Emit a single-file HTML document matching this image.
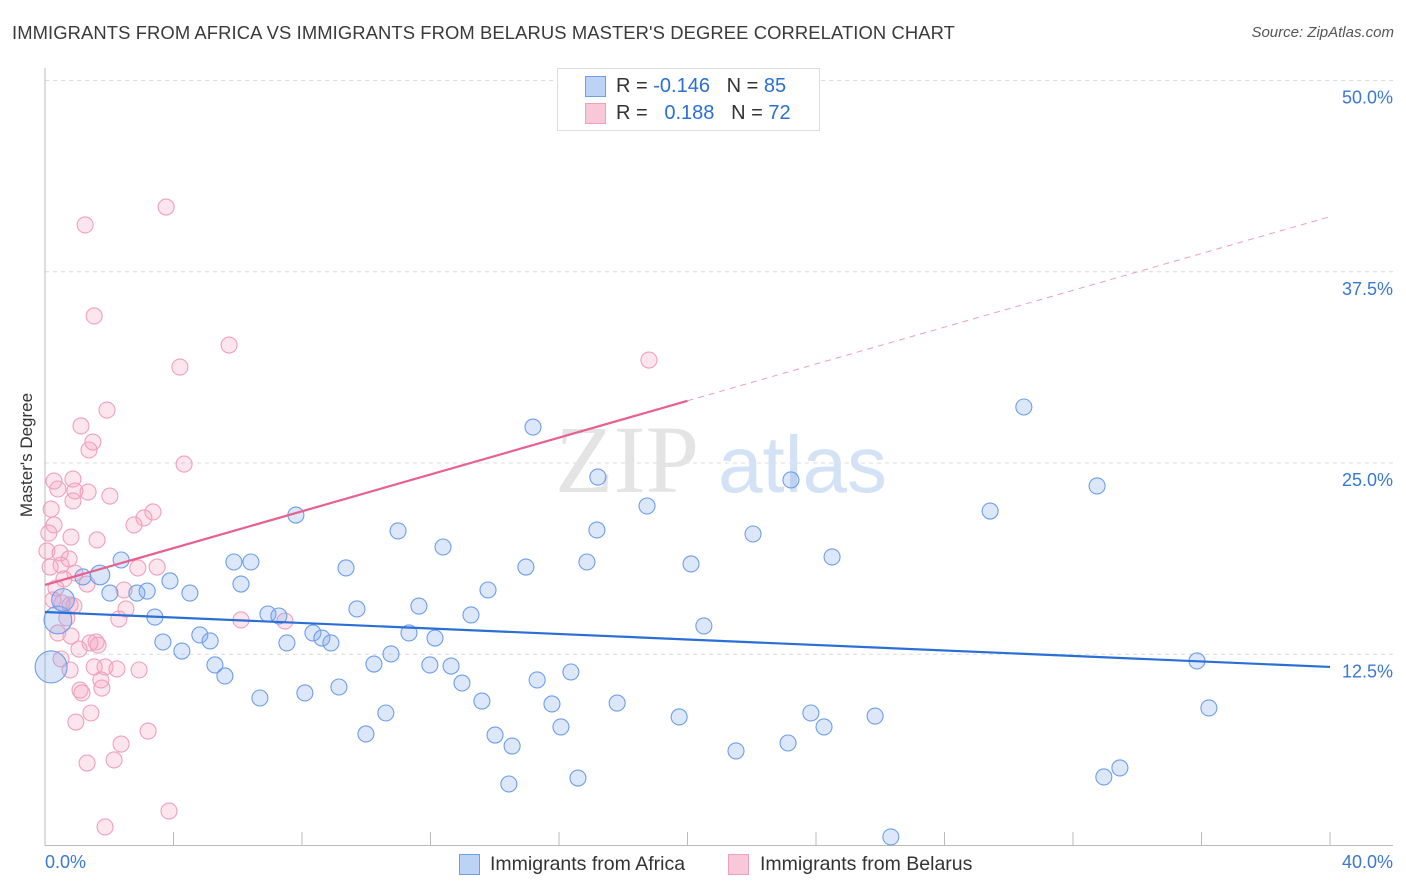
<!DOCTYPE html>
<html><head><meta charset="utf-8"><style>
html,body{margin:0;padding:0;background:#fff;}
body{width:1406px;height:892px;overflow:hidden;font-family:"Liberation Sans",sans-serif;position:relative;}
.t{position:absolute;white-space:nowrap;}
</style></head><body>
<div class="t" style="left:12px;top:22px;font-size:18.4px;letter-spacing:0.1px;color:#3a3a3a;">IMMIGRANTS FROM AFRICA VS IMMIGRANTS FROM BELARUS MASTER'S DEGREE CORRELATION CHART</div>
<div class="t" style="right:12px;top:24px;font-size:15px;color:#555;font-style:italic;">Source: ZipAtlas.com</div>
<svg id="chart" width="1406" height="892" style="position:absolute;left:0;top:0;" xmlns="http://www.w3.org/2000/svg"></svg>
<script>
const blueX=[15.19,30.47,17.21,18.74,23.22,32.75,29.42,7.81,10.99,17.18,22.04,12.39,24.50,5.88,6.41,2.37,9.37,14.97,16.87,20.11,1.18,3.89,6.10,13.79,4.51,2.02,2.86,3.18,11.64,9.71,6.94,7.28,3.42,13.26,20.51,8.34,8.62,8.90,11.33,12.14,4.82,5.14,7.53,3.67,4.26,10.77,10.24,11.98,12.64,5.29,5.60,35.86,16.37,12.98,15.32,9.15,8.09,6.69,13.60,15.78,17.81,36.23,10.61,23.84,25.84,19.74,24.25,16.06,9.99,14.01,14.54,23.13,21.51,33.46,32.96,16.59,14.44,26.33];
const blueY=[27.35,28.66,24.08,22.19,23.89,23.50,21.86,21.60,20.56,20.62,20.36,19.51,18.86,18.53,18.53,18.66,18.14,18.20,18.53,18.40,17.55,17.29,17.09,16.70,16.50,16.50,16.50,16.63,15.65,15.46,15.13,15.00,14.93,15.07,14.35,13.89,13.56,13.24,13.89,13.56,13.76,13.37,13.24,13.30,12.71,12.52,11.86,11.80,11.73,11.80,11.08,12.06,11.34,10.62,10.82,10.36,9.97,9.64,9.44,9.25,9.31,8.99,8.66,8.66,8.46,8.40,7.75,7.75,7.29,7.22,6.50,6.70,6.18,5.07,4.48,4.41,4.02,0.56];
const bigBlueX=[0.19,0.40,0.56,1.71];
const bigBlueY=[11.67,14.74,16.05,17.68];
const bigBlueW=[4,3,2,1.5];
const pinkX=[3.77,1.25,1.53,5.73,4.20,18.80,1.93,1.12,1.49,1.37,4.33,0.28,0.87,0.40,2.02,0.93,1.34,0.87,3.36,3.08,0.19,2.77,0.28,0.12,1.62,0.81,0.06,0.47,0.75,0.50,0.16,3.49,2.89,0.59,0.93,1.31,2.46,0.25,0.53,0.78,0.34,2.52,0.90,0.68,2.30,6.10,7.47,0.40,1.59,1.40,0.81,1.65,1.06,1.53,1.87,2.24,2.93,1.74,1.09,1.15,1.77,1.43,0.96,3.21,2.37,1.31,2.15,3.86,1.87,0.78,0.50];
const pinkY=[41.73,40.56,34.61,32.71,31.27,31.73,28.46,27.42,26.37,25.85,24.93,23.82,23.95,23.30,22.84,23.17,23.10,22.52,21.80,21.41,21.99,20.95,20.95,20.42,19.97,20.16,19.25,19.12,18.73,18.33,18.20,18.20,18.14,17.42,17.81,17.09,16.70,16.05,15.85,15.72,16.83,15.46,15.65,14.87,14.80,14.74,14.67,13.89,13.30,13.24,13.69,13.10,12.84,11.67,11.67,11.54,11.47,10.82,10.16,9.97,10.29,8.66,8.07,7.48,6.63,5.39,5.59,2.25,1.21,11.47,12.19];
const blueTrend=[15.26,11.67]; // value at x=0, x=40
const pinkTrend=[17.03,41.1];
const pinkSolidEnd=20;
const yTicks=[12.5,25.0,37.5,50.0];
const yTickLabels=["12.5%","25.0%","37.5%","50.0%"];
const xTicks=[0,4,8,12,16,20,24,28,32,36,40];

const NS="http://www.w3.org/2000/svg";
const svg=document.getElementById('chart');
const X=v=>45+v*32.125;
const Y=v=>845.5-v*15.3;
function mk(tag,attrs,parent){const e=document.createElementNS(NS,tag);for(const k in attrs)e.setAttribute(k,attrs[k]);(parent||svg).appendChild(e);return e;}

yTicks.forEach((v,i)=>{
  const g=mk('line',{x1:45,x2:1393,y1:Y(v),y2:Y(v),stroke:'#dcdcdc','stroke-dasharray':'4,4','stroke-width':1});
  
  
  const t=mk('text',{x:1393,y:Y(v)+23,'text-anchor':'end','font-size':18,fill:'#3a78d4','font-family':'Liberation Sans, sans-serif'});
  t.textContent=yTickLabels[i];
  
  
});
const ax=mk('line',{x1:45,x2:1393,y1:845.5,y2:845.5,stroke:'#bbb','stroke-width':1});


const ay=mk('line',{x1:45,x2:45,y1:68,y2:845.5,stroke:'#bbb','stroke-width':1});


xTicks.forEach(v=>{
  const l=mk('line',{x1:X(v),x2:X(v),y1:832,y2:845.5,stroke:'#bbb','stroke-width':1});
  
  
});
const wm=mk('text',{x:555,y:492,'font-size':96,fill:'#e4e4e4','font-family':'Liberation Serif, serif'});
wm.textContent='ZIP';


const wm2=mk('text',{x:718,y:492,'font-size':80,fill:'#d4e2f6','font-family':'Liberation Sans, sans-serif'});
wm2.textContent='atlas';



pinkX.forEach((v,i)=>{
  const c=mk('circle',{cx:X(v),cy:Y(pinkY[i]),r:8,fill:'rgba(244,160,190,0.28)',stroke:'#f0a0bc','stroke-width':1.1});
  
  
});
blueX.forEach((v,i)=>{
  const c=mk('circle',{cx:X(v),cy:Y(blueY[i]),r:8,fill:'rgba(130,170,235,0.28)',stroke:'#6d9eeb','stroke-width':1.1});
  
  
});
bigBlueX.forEach((v,i)=>{
  const c=mk('circle',{cx:X(v),cy:Y(bigBlueY[i]),r:8*Math.sqrt(bigBlueW[i]),fill:'rgba(130,170,235,0.3)',stroke:'#6d9eeb','stroke-width':1.1});
  
  
});
const bl=mk('line',{x1:X(0),y1:Y(blueTrend[0]),x2:X(40),y2:Y(blueTrend[1]),stroke:'#2a6fd6','stroke-width':2.2});


const pm=pinkTrend[0]+(pinkTrend[1]-pinkTrend[0])*pinkSolidEnd/40;
const pl=mk('line',{x1:X(0),y1:Y(pinkTrend[0]),x2:X(pinkSolidEnd),y2:Y(pm),stroke:'#e8608e','stroke-width':2.2});


const pd=mk('line',{x1:X(pinkSolidEnd),y1:Y(pm),x2:X(40),y2:Y(pinkTrend[1]),stroke:'#eea0b8','stroke-width':1,'stroke-dasharray':'6,5'});


</script>
<div class="t" style="left:27px;top:455px;font-size:17px;color:#333;transform:translate(-50%,-50%) rotate(-90deg);">Master's Degree</div>
<div class="t" style="left:45px;top:852px;font-size:18px;color:#3a78d4;">0.0%</div>
<div class="t" style="right:13px;top:852px;font-size:18px;color:#3a78d4;">40.0%</div>
<div style="position:absolute;left:557px;top:68px;width:261px;height:61px;border:1px solid #ddd;background:#fff;font-size:20px;color:#333;">
  <div style="position:absolute;left:27px;top:7px;width:19px;height:19px;background:#bcd3f5;border:1px solid #6d9eeb;"></div>
  <div class="t" style="left:58px;top:6px;">R = <span style="color:#2a6fd6">-0.146</span>&nbsp;&nbsp;&nbsp;N = <span style="color:#2a6fd6">85</span></div>
  <div style="position:absolute;left:27px;top:34px;width:19px;height:19px;background:#f8c8d8;border:1px solid #f0a0bc;"></div>
  <div class="t" style="left:58px;top:33px;">R = &nbsp;&nbsp;<span style="color:#2a6fd6">0.188</span>&nbsp;&nbsp;&nbsp;N = <span style="color:#2a6fd6">72</span></div>
</div>
<div style="position:absolute;left:459px;top:854px;font-size:19.5px;color:#333;">
  <div style="position:absolute;left:0;top:0;width:19px;height:19px;background:#bcd3f5;border:1px solid #6d9eeb;"></div>
  <div class="t" style="left:31px;top:-1px;">Immigrants from Africa</div>
</div>
<div style="position:absolute;left:728px;top:854px;font-size:19.5px;color:#333;">
  <div style="position:absolute;left:0;top:0;width:19px;height:19px;background:#f8c8d8;border:1px solid #f0a0bc;"></div>
  <div class="t" style="left:32px;top:-1px;">Immigrants from Belarus</div>
</div>
</body></html>
